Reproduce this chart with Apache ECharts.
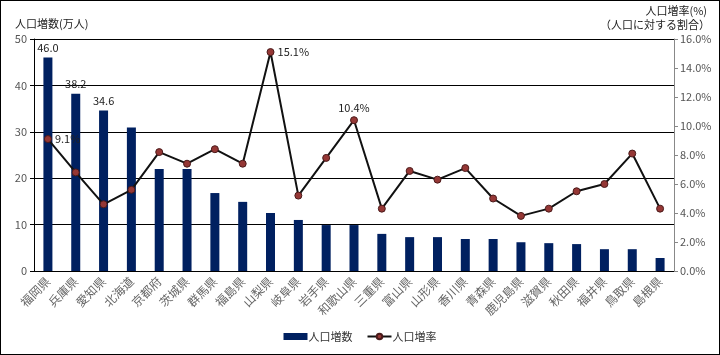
<!DOCTYPE html>
<html><head><meta charset="utf-8">
<script src="https://cdn.jsdelivr.net/npm/echarts@6/dist/echarts.min.js"></script>
<style>
html,body{margin:0;padding:0;background:#fff;}
#c{width:718px;height:353px;border:1px solid #000;}
</style></head>
<body><div id="c"></div>
<script>
const categories = ['福岡県','兵庫県','愛知県','北海道','京都府','茨城県','群馬県','福島県','山梨県','岐阜県','岩手県','和歌山県','三重県','富山県','山形県','香川県','青森県','鹿児島県','滋賀県','秋田県','福井県','鳥取県','島根県'];
const increaseCount = [46.0,38.2,34.6,30.9,22.0,22.0,16.8,14.9,12.5,11.0,9.9,9.9,8.0,7.3,7.3,6.9,6.9,6.2,6.0,5.8,4.7,4.7,2.8];
const increaseRate = [9.1,6.8,4.6,5.6,8.2,7.4,8.4,7.4,15.1,5.2,7.8,10.4,4.3,6.9,6.3,7.1,5.0,3.8,4.3,5.5,6.0,8.1,4.3];
const countLabelIdx = [0,1,2];
const rateLabelIdx = {0:'right',8:'right',11:'top'};
const leftTicks = [0,10,20,30,40,50];
const rightTicks = [0,2,4,6,8,10,12,14,16];

const FONT = "'Noto Sans CJK JP','DejaVu Sans',sans-serif";
const chart = echarts.init(document.getElementById('c'));
chart.setOption({
  animation:false,
  textStyle:{fontFamily:FONT},
  grid:{left:33,right:45,top:38,bottom:83,containLabel:false},
  graphic:[
    {type:'text',left:14,top:17,style:{text:'人口増数(万人)',font:"11px "+FONT,fill:'#222'}},
    {type:'text',right:12,top:4,style:{text:'人口増率(%)',font:"11px "+FONT,fill:'#222',textAlign:'right'}},
    {type:'text',right:9,top:18,style:{text:'（人口に対する割合）',font:"11px "+FONT,fill:'#222',textAlign:'right'}}
  ],
  legend:{
    bottom:7,left:'center',itemGap:14,itemWidth:24,itemHeight:7,
    textStyle:{fontSize:11,color:'#333',fontFamily:FONT,padding:[0,0,0,-4]},
    data:[{name:'人口増数',icon:'rect'},{name:'人口増率'}]
  },
  xAxis:{
    type:'category',data:categories,
    axisLine:{lineStyle:{color:'#000',width:1}},
    axisTick:{alignWithLabel:true,length:4,lineStyle:{color:'#000'}},
    axisLabel:{rotate:45,fontSize:12,color:'#666',margin:8,interval:0,fontFamily:FONT}
  },
  yAxis:[
    {type:'value',min:0,max:50,interval:10,
     axisLine:{show:true,lineStyle:{color:'#000'}},
     axisTick:{show:true,length:4,lineStyle:{color:'#000'}},
     axisLabel:{fontSize:11,color:'#555',margin:7,
       formatter:v=>leftTicks.includes(v)?String(v):''},
     splitLine:{lineStyle:{color:'#000',width:1}}},
    {type:'value',min:0,max:16,interval:2,position:'right',
     axisLine:{show:true,lineStyle:{color:'#888'}},
     axisTick:{show:true,length:4,lineStyle:{color:'#888'}},
     axisLabel:{fontSize:11,color:'#555',margin:6,
       formatter:v=>rightTicks.includes(v)?v.toFixed(1)+'%':''},
     splitLine:{show:false}}
  ],
  series:[
    {name:'人口増数',type:'bar',yAxisIndex:0,barWidth:9,
     itemStyle:{color:'#002060'},
     data:increaseCount.map((v,i)=>({value:v,label:{show:countLabelIdx.includes(i)}})),
     label:{position:'top',distance:4,fontSize:11,color:'#222',formatter:p=>p.value.toFixed(1)}},
    {name:'人口増率',type:'line',yAxisIndex:1,
     symbol:'circle',symbolSize:7,
     lineStyle:{color:'#111',width:2},
     itemStyle:{color:'#953735',borderColor:'#4a1a1a',borderWidth:1},
     data:increaseRate.map((v,i)=>({value:v,label:rateLabelIdx[i]?{show:true,position:rateLabelIdx[i]}:{show:false}})),
     label:{fontSize:11,color:'#222',distance:3,formatter:p=>p.value.toFixed(1)+'%'},
     z:5}
  ]
});
</script></body></html>
